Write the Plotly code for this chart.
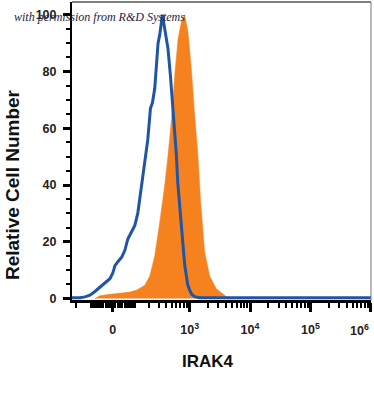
import numpy as np
import plotly.graph_objects as go

# ---- data (x in biexponential display units, y = relative cell number) ----
control_x = [1.050, 1.182, 1.264, 1.347, 1.430, 1.512, 1.595, 1.678, 1.727, 1.760, 1.810, 1.876,
             1.926, 1.975, 2.025, 2.091, 2.140, 2.174, 2.223, 2.273, 2.306, 2.350, 2.383, 2.421,
             2.476, 2.504, 2.549, 2.587, 2.641, 2.681, 2.724, 2.780, 2.802, 2.835, 2.860, 2.889,
             2.917, 2.945, 2.967, 3.000, 3.033, 3.083, 3.165, 6.005]
control_y = [0.3, 0.3, 0.6, 1.2, 2.5, 4, 5.5, 7, 9, 11.5, 13, 14.7,
             17, 21, 23, 25.8, 30, 35, 42, 50.5, 56, 67, 69, 74,
             90, 93, 100, 95, 88, 78.6, 67, 50.5, 41, 32, 25, 17.6,
             12, 8, 5, 3, 1.5, 0.7, 0.3, 0.3]

irak4_x = [1.430, 1.512, 1.678, 1.843, 2.008, 2.124, 2.256, 2.339, 2.421, 2.504, 2.587, 2.641,
           2.698, 2.752, 2.807, 2.863, 2.917, 2.972, 3.028, 3.083, 3.137, 3.182, 3.248, 3.331,
           3.441, 3.607, 3.744]
irak4_y = [0, 1, 1.5, 1.8, 2.3, 3, 4.7, 8, 15, 27, 40, 50.5,
           63, 78.6, 91.5, 97.5, 100, 94, 81, 64.5, 50.5, 34, 16.5, 8,
           3.5, 0.7, 0]

major_values = [0, 1e3, 1e4, 1e5, 1e6]
major_labels = ["0", "10<sup>3</sup>", "10<sup>4</sup>", "10<sup>5</sup>", ""]
y_major = [0, 20, 40, 60, 80, 100]

W0 = 53.3  # linear-region width of the biexponential display


def biex(v):
    v = np.asarray(v, dtype=float)
    return np.arcsinh(v / (2 * W0)) / np.log(10) + np.log10(W0)


minor_values = ([-s * 10 for s in range(1, 10)] + [s * 10 for s in range(1, 10)] +
                [-s * 100 for s in range(1, 10)] + [s * 100 for s in range(1, 10)] +
                [m * 10 ** k for k in (3, 4, 5) for m in range(2, 10)])
minor_u = [u for u in biex(minor_values).tolist() if 1.05 <= u <= 6.0]

ORANGE = "#F5821F"
BLUE = "#1F55A5"

fig = go.Figure()
fig.add_trace(go.Scatter(x=irak4_x, y=irak4_y, mode="lines", fill="tozeroy",
                         line=dict(color=ORANGE, width=0.5), fillcolor=ORANGE,
                         hoverinfo="skip", showlegend=False))
fig.add_trace(go.Scatter(x=control_x, y=control_y, mode="lines",
                         line=dict(color=BLUE, width=3), cliponaxis=False,
                         hoverinfo="skip", showlegend=False))

tick_font = dict(family="Liberation Sans, Arial", size=12.5, color="#222222", weight="bold")

fig.update_layout(
    width=374, height=396,
    margin=dict(l=72, r=3, t=2, b=96),
    paper_bgcolor="white", plot_bgcolor="white",
    xaxis=dict(range=[1.05, 6.005], showgrid=False, zeroline=False,
               showline=True, linecolor="black", linewidth=2.5,
               tickmode="array", tickvals=biex(major_values).tolist(), ticktext=major_labels,
               ticks="outside", ticklen=9, tickwidth=3, tickcolor="black",
               ticklabelstandoff=7,
               minor=dict(tickmode="array", tickvals=minor_u, ticks="outside",
                          ticklen=5, tickwidth=2, tickcolor="black"),
               tickfont=tick_font, automargin=False, fixedrange=True),
    yaxis=dict(range=[-0.5, 104.5], showgrid=False, zeroline=False,
               showline=True, linecolor="black", linewidth=2,
               tickmode="array", tickvals=y_major,
               ticks="outside", ticklen=7, tickwidth=3, tickcolor="black",
               ticklabelstandoff=4,
               minor=dict(tickmode="linear", tick0=0, dtick=5, ticks="outside",
                          ticklen=4, tickwidth=2, tickcolor="black"),
               tickfont=tick_font, automargin=False, fixedrange=True),
    shapes=[
        dict(type="line", xref="paper", yref="paper", x0=0, x1=1, y0=1, y1=1,
             line=dict(color="black", width=1)),
        dict(type="line", xref="paper", yref="paper", x0=1, x1=1, y0=0, y1=1,
             line=dict(color="#777777", width=1)),
    ],
    annotations=[
        dict(text="Relative Cell Number", xref="paper", yref="paper",
             x=-0.2007, y=0.389, textangle=-90, showarrow=False,
             xanchor="center", yanchor="middle",
             font=dict(family="Liberation Sans, Arial", size=19, color="#111111", weight="bold")),
        dict(text="IRAK4", xref="paper", yref="paper", x=0.455, y=-0.2047,
             showarrow=False, xanchor="center", yanchor="middle",
             font=dict(family="Liberation Sans, Arial", size=17, color="#111111", weight="bold")),
        dict(text="10<sup>6</sup>", xref="paper", yref="paper", x=0.963, y=-0.10,
             showarrow=False, xanchor="center", yanchor="middle", font=tick_font),
        dict(text="with permission from R&D Systems", xref="paper", yref="paper",
             x=-0.2007, y=0.9497, showarrow=False, xanchor="left", yanchor="middle",
             font=dict(family="Liberation Serif", size=12, color="#1c2340", style="italic")),
    ],
)

fig.write_html("out.html", config={"displayModeBar": False},
               post_script="document.body.style.margin='0px';")
